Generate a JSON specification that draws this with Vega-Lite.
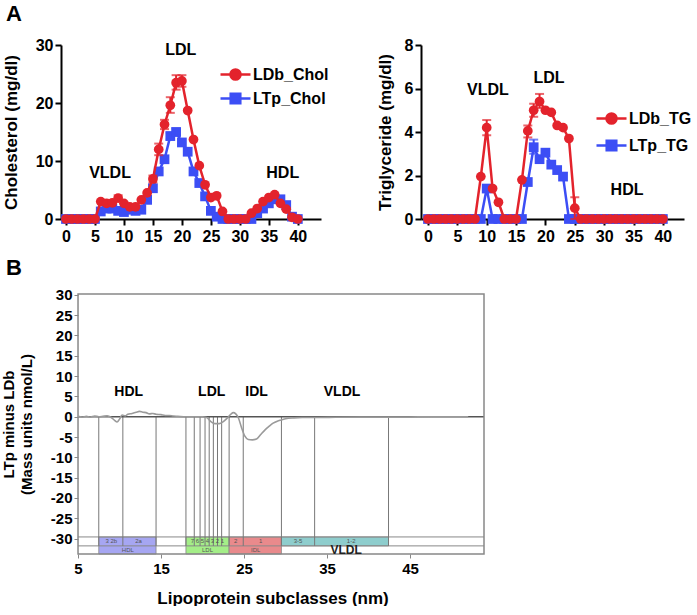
{
  "$schema": "https://vega.github.io/schema/vega-lite/v6.json",
  "background": "white",
  "padding": {"left": 1, "top": 3, "right": 0, "bottom": 0},
  "config": {
    "font": "Liberation Sans",
    "view": {"stroke": null},
    "axis": {"grid": false, "labelFont": "Liberation Sans", "titleFont": "Liberation Sans", "labelFontWeight": "bold", "titleFontWeight": "bold", "labelColor": "black", "titleColor": "black"},
    "legend": {"labelFont": "Liberation Sans"}
  },
  "datasets": {
    "chol": [
      {"f":0,"v":0,"s":"LDb_Chol"},{"f":1,"v":0,"s":"LDb_Chol"},{"f":2,"v":0,"s":"LDb_Chol"},{"f":3,"v":0,"s":"LDb_Chol"},{"f":4,"v":0,"s":"LDb_Chol"},{"f":5,"v":0,"s":"LDb_Chol"},{"f":6,"v":3.0,"s":"LDb_Chol"},{"f":7,"v":2.7,"s":"LDb_Chol"},{"f":8,"v":2.8,"s":"LDb_Chol"},{"f":9,"v":3.6,"s":"LDb_Chol"},{"f":10,"v":2.7,"s":"LDb_Chol"},{"f":11,"v":2.1,"s":"LDb_Chol"},{"f":12,"v":2.1,"s":"LDb_Chol"},{"f":13,"v":3.3,"s":"LDb_Chol"},{"f":14,"v":4.5,"s":"LDb_Chol"},{"f":15,"v":6.9,"s":"LDb_Chol"},{"f":16,"v":12.0,"s":"LDb_Chol"},{"f":17,"v":16.3,"s":"LDb_Chol"},{"f":18,"v":19.6,"s":"LDb_Chol"},{"f":19,"v":23.5,"s":"LDb_Chol"},{"f":20,"v":23.8,"s":"LDb_Chol"},{"f":21,"v":18.7,"s":"LDb_Chol"},{"f":22,"v":13.7,"s":"LDb_Chol"},{"f":23,"v":9.2,"s":"LDb_Chol"},{"f":24,"v":5.9,"s":"LDb_Chol"},{"f":25,"v":3.7,"s":"LDb_Chol"},{"f":26,"v":4.0,"s":"LDb_Chol"},{"f":27,"v":1.3,"s":"LDb_Chol"},{"f":28,"v":0,"s":"LDb_Chol"},{"f":29,"v":0,"s":"LDb_Chol"},{"f":30,"v":0,"s":"LDb_Chol"},{"f":31,"v":0,"s":"LDb_Chol"},{"f":32,"v":1.0,"s":"LDb_Chol"},{"f":33,"v":1.8,"s":"LDb_Chol"},{"f":34,"v":3.0,"s":"LDb_Chol"},{"f":35,"v":3.7,"s":"LDb_Chol"},{"f":36,"v":4.2,"s":"LDb_Chol"},{"f":37,"v":2.7,"s":"LDb_Chol"},{"f":38,"v":1.7,"s":"LDb_Chol"},{"f":39,"v":0.3,"s":"LDb_Chol"},{"f":40,"v":0,"s":"LDb_Chol"},
      {"f":0,"v":0,"s":"LTp_Chol"},{"f":1,"v":0,"s":"LTp_Chol"},{"f":2,"v":0,"s":"LTp_Chol"},{"f":3,"v":0,"s":"LTp_Chol"},{"f":4,"v":0,"s":"LTp_Chol"},{"f":5,"v":0,"s":"LTp_Chol"},{"f":6,"v":1.3,"s":"LTp_Chol"},{"f":7,"v":1.8,"s":"LTp_Chol"},{"f":8,"v":1.8,"s":"LTp_Chol"},{"f":9,"v":1.4,"s":"LTp_Chol"},{"f":10,"v":1.2,"s":"LTp_Chol"},{"f":11,"v":1.6,"s":"LTp_Chol"},{"f":12,"v":1.4,"s":"LTp_Chol"},{"f":13,"v":1.6,"s":"LTp_Chol"},{"f":14,"v":3.3,"s":"LTp_Chol"},{"f":15,"v":5.3,"s":"LTp_Chol"},{"f":16,"v":8.2,"s":"LTp_Chol"},{"f":17,"v":10.3,"s":"LTp_Chol"},{"f":18,"v":14.3,"s":"LTp_Chol"},{"f":19,"v":15.0,"s":"LTp_Chol"},{"f":20,"v":13.2,"s":"LTp_Chol"},{"f":21,"v":11.6,"s":"LTp_Chol"},{"f":22,"v":8.2,"s":"LTp_Chol"},{"f":23,"v":6.2,"s":"LTp_Chol"},{"f":24,"v":3.9,"s":"LTp_Chol"},{"f":25,"v":1.4,"s":"LTp_Chol"},{"f":26,"v":0.4,"s":"LTp_Chol"},{"f":27,"v":0,"s":"LTp_Chol"},{"f":28,"v":0,"s":"LTp_Chol"},{"f":29,"v":0,"s":"LTp_Chol"},{"f":30,"v":0,"s":"LTp_Chol"},{"f":31,"v":0,"s":"LTp_Chol"},{"f":32,"v":0,"s":"LTp_Chol"},{"f":33,"v":1.0,"s":"LTp_Chol"},{"f":34,"v":1.8,"s":"LTp_Chol"},{"f":35,"v":2.7,"s":"LTp_Chol"},{"f":36,"v":3.4,"s":"LTp_Chol"},{"f":37,"v":3.4,"s":"LTp_Chol"},{"f":38,"v":2.4,"s":"LTp_Chol"},{"f":39,"v":0.4,"s":"LTp_Chol"},{"f":40,"v":0,"s":"LTp_Chol"}
    ],
    "cholErr": [
      {"f":9,"v":3.1,"v2":4.1,"s":"LDb_Chol"},{"f":15,"v":6.3,"v2":7.5,"s":"LDb_Chol"},{"f":16,"v":11.0,"v2":13.0,"s":"LDb_Chol"},{"f":17,"v":15.5,"v2":17.1,"s":"LDb_Chol"},{"f":18,"v":18.3,"v2":21.0,"s":"LDb_Chol"},{"f":19,"v":22.3,"v2":24.8,"s":"LDb_Chol"},{"f":20,"v":22.8,"v2":24.8,"s":"LDb_Chol"},
      {"f":18,"v":13.7,"v2":14.9,"s":"LTp_Chol"},{"f":19,"v":14.4,"v2":15.6,"s":"LTp_Chol"}
    ],
    "cholLab": [
      {"f":19.8,"v":29.1,"t":"LDL"},{"f":7.6,"v":7.9,"t":"VLDL"},{"f":37.4,"v":7.9,"t":"HDL"}
    ],
    "tg": [
      {"f":0,"v":0,"s":"LDb_TG"},{"f":1,"v":0,"s":"LDb_TG"},{"f":2,"v":0,"s":"LDb_TG"},{"f":3,"v":0,"s":"LDb_TG"},{"f":4,"v":0,"s":"LDb_TG"},{"f":5,"v":0,"s":"LDb_TG"},{"f":6,"v":0,"s":"LDb_TG"},{"f":7,"v":0,"s":"LDb_TG"},{"f":8,"v":0,"s":"LDb_TG"},{"f":9,"v":1.95,"s":"LDb_TG"},{"f":10,"v":4.2,"s":"LDb_TG"},{"f":11,"v":1.4,"s":"LDb_TG"},{"f":12,"v":0.77,"s":"LDb_TG"},{"f":13,"v":0,"s":"LDb_TG"},{"f":14,"v":0,"s":"LDb_TG"},{"f":15,"v":0,"s":"LDb_TG"},{"f":16,"v":1.8,"s":"LDb_TG"},{"f":17,"v":4.05,"s":"LDb_TG"},{"f":18,"v":5.0,"s":"LDb_TG"},{"f":19,"v":5.4,"s":"LDb_TG"},{"f":20,"v":5.0,"s":"LDb_TG"},{"f":21,"v":4.9,"s":"LDb_TG"},{"f":22,"v":4.3,"s":"LDb_TG"},{"f":23,"v":4.2,"s":"LDb_TG"},{"f":24,"v":3.7,"s":"LDb_TG"},{"f":25,"v":0.5,"s":"LDb_TG"},{"f":26,"v":0,"s":"LDb_TG"},{"f":27,"v":0,"s":"LDb_TG"},{"f":28,"v":0,"s":"LDb_TG"},{"f":29,"v":0,"s":"LDb_TG"},{"f":30,"v":0,"s":"LDb_TG"},{"f":31,"v":0,"s":"LDb_TG"},{"f":32,"v":0,"s":"LDb_TG"},{"f":33,"v":0,"s":"LDb_TG"},{"f":34,"v":0,"s":"LDb_TG"},{"f":35,"v":0,"s":"LDb_TG"},{"f":36,"v":0,"s":"LDb_TG"},{"f":37,"v":0,"s":"LDb_TG"},{"f":38,"v":0,"s":"LDb_TG"},{"f":39,"v":0,"s":"LDb_TG"},{"f":40,"v":0,"s":"LDb_TG"},
      {"f":0,"v":0,"s":"LTp_TG"},{"f":1,"v":0,"s":"LTp_TG"},{"f":2,"v":0,"s":"LTp_TG"},{"f":3,"v":0,"s":"LTp_TG"},{"f":4,"v":0,"s":"LTp_TG"},{"f":5,"v":0,"s":"LTp_TG"},{"f":6,"v":0,"s":"LTp_TG"},{"f":7,"v":0,"s":"LTp_TG"},{"f":8,"v":0,"s":"LTp_TG"},{"f":9,"v":0,"s":"LTp_TG"},{"f":10,"v":1.4,"s":"LTp_TG"},{"f":11,"v":0,"s":"LTp_TG"},{"f":12,"v":0,"s":"LTp_TG"},{"f":13,"v":0,"s":"LTp_TG"},{"f":14,"v":0,"s":"LTp_TG"},{"f":15,"v":0,"s":"LTp_TG"},{"f":16,"v":0,"s":"LTp_TG"},{"f":17,"v":1.7,"s":"LTp_TG"},{"f":18,"v":3.3,"s":"LTp_TG"},{"f":19,"v":2.75,"s":"LTp_TG"},{"f":20,"v":3.05,"s":"LTp_TG"},{"f":21,"v":2.5,"s":"LTp_TG"},{"f":22,"v":2.25,"s":"LTp_TG"},{"f":23,"v":1.95,"s":"LTp_TG"},{"f":24,"v":0,"s":"LTp_TG"},{"f":25,"v":0,"s":"LTp_TG"},{"f":26,"v":0,"s":"LTp_TG"},{"f":27,"v":0,"s":"LTp_TG"},{"f":28,"v":0,"s":"LTp_TG"},{"f":29,"v":0,"s":"LTp_TG"},{"f":30,"v":0,"s":"LTp_TG"},{"f":31,"v":0,"s":"LTp_TG"},{"f":32,"v":0,"s":"LTp_TG"},{"f":33,"v":0,"s":"LTp_TG"},{"f":34,"v":0,"s":"LTp_TG"},{"f":35,"v":0,"s":"LTp_TG"},{"f":36,"v":0,"s":"LTp_TG"},{"f":37,"v":0,"s":"LTp_TG"},{"f":38,"v":0,"s":"LTp_TG"},{"f":39,"v":0,"s":"LTp_TG"},{"f":40,"v":0,"s":"LTp_TG"}
    ],
    "tgErr": [
      {"f":10,"v":3.85,"v2":4.55,"s":"LDb_TG"},{"f":17,"v":3.75,"v2":4.3,"s":"LDb_TG"},{"f":18,"v":4.7,"v2":5.3,"s":"LDb_TG"},{"f":19,"v":5.1,"v2":5.75,"s":"LDb_TG"},{"f":25,"v":0,"v2":1.0,"s":"LDb_TG"},
      {"f":18,"v":3.0,"v2":3.65,"s":"LTp_TG"}
    ],
    "tgLab": [
      {"f":10.2,"v":5.93,"t":"VLDL"},{"f":20.6,"v":6.5,"t":"LDL"},{"f":33.9,"v":1.33,"t":"HDL"}
    ],
    "diff": [
      {"x":5.0,"y":0.1},{"x":5.5,"y":-0.1},{"x":6.0,"y":0.1},{"x":6.5,"y":-0.1},{"x":7.0,"y":0.15},{"x":7.5,"y":0.0},{"x":8.0,"y":0.1},{"x":8.5,"y":0.2},{"x":9.0,"y":-0.2},{"x":9.4,"y":-0.9},{"x":9.7,"y":-1.3},{"x":10.0,"y":-0.6},{"x":10.3,"y":0.4},{"x":10.7,"y":0.2},{"x":11.0,"y":0.6},{"x":11.5,"y":0.8},{"x":12.0,"y":1.1},{"x":12.4,"y":1.3},{"x":12.8,"y":1.1},{"x":13.2,"y":1.0},{"x":13.6,"y":0.7},{"x":14.0,"y":0.8},{"x":14.4,"y":0.6},{"x":15.0,"y":0.5},{"x":15.5,"y":0.3},{"x":16.0,"y":0.3},{"x":16.5,"y":0.15},{"x":17.0,"y":0.1},{"x":18.0,"y":0.0},{"x":19.0,"y":0.0},{"x":20.0,"y":0.0},{"x":20.5,"y":-0.2},{"x":21.0,"y":-1.2},{"x":21.5,"y":-1.7},{"x":22.0,"y":-1.7},{"x":22.5,"y":-1.2},{"x":23.0,"y":-0.3},{"x":23.4,"y":0.6},{"x":23.7,"y":1.0},{"x":24.0,"y":0.7},{"x":24.3,"y":-0.2},{"x":24.7,"y":-2.7},{"x":25.1,"y":-4.8},{"x":25.5,"y":-5.6},{"x":26.0,"y":-5.7},{"x":26.5,"y":-5.5},{"x":27.0,"y":-4.4},{"x":27.5,"y":-3.3},{"x":28.0,"y":-2.4},{"x":28.5,"y":-1.6},{"x":29.0,"y":-1.1},{"x":29.5,"y":-0.8},{"x":30.0,"y":-0.5},{"x":31.0,"y":-0.3},{"x":32.0,"y":-0.2},{"x":34.0,"y":-0.2},{"x":36.0,"y":-0.15},{"x":40.0,"y":-0.1},{"x":44.0,"y":-0.1},{"x":48.0,"y":0.0},{"x":52.0,"y":0.0}
    ],
    "boxes": [
      {"cls":"HDL","x":7.5,"x2":14.4,"y":-29.6,"y2":-33.8},
      {"cls":"LDL","x":18.0,"x2":23.2,"y":-29.6,"y2":-33.8},
      {"cls":"IDL","x":23.2,"x2":29.5,"y":-29.6,"y2":-33.8},
      {"cls":"VLDL","x":29.5,"x2":42.4,"y":-29.6,"y2":-31.8}
    ],
    "hlines": [
      {"x":5,"x2":53.9,"y":-29.6},{"x":5,"x2":53.9,"y":-31.8}
    ],
    "zero": [{"x":5,"x2":53.9,"y":0}],
    "vlines": [
      {"x":7.5,"y":0,"y2":-31.8},{"x":10.4,"y":0,"y2":-31.8},{"x":14.4,"y":0,"y2":-31.8},{"x":18.0,"y":0,"y2":-31.8},{"x":19.0,"y":0,"y2":-31.8},{"x":19.7,"y":0,"y2":-31.8},{"x":20.3,"y":0,"y2":-31.8},{"x":20.8,"y":0,"y2":-31.8},{"x":21.3,"y":0,"y2":-31.8},{"x":21.8,"y":0,"y2":-31.8},{"x":22.3,"y":0,"y2":-31.8},{"x":23.2,"y":0,"y2":-31.8},{"x":24.9,"y":0,"y2":-31.8},{"x":29.5,"y":0,"y2":-31.8},{"x":33.5,"y":0,"y2":-31.8},{"x":42.4,"y":0,"y2":-31.8}
    ],
    "frame": [{"x":5,"x2":53.9,"y":30.2,"y2":-33.8}],
    "regLab": [
      {"x":11.1,"y":6.2,"t":"HDL"},{"x":21.1,"y":6.2,"t":"LDL"},{"x":26.5,"y":6.2,"t":"IDL"},{"x":36.8,"y":6.2,"t":"VLDL"}
    ],
    "boxLab": [
      {"x":9.0,"y":-30.7,"t":"3  2b"},{"x":12.3,"y":-30.7,"t":"2a"},{"x":11.0,"y":-32.8,"t":"HDL"},
      {"x":20.6,"y":-30.7,"t":"7 6 5 4 3 2 1"},{"x":20.6,"y":-32.8,"t":"LDL"},
      {"x":24.0,"y":-30.7,"t":"2"},{"x":27.0,"y":-30.7,"t":"1"},{"x":26.4,"y":-32.8,"t":"IDL"},
      {"x":31.5,"y":-30.7,"t":"3-5"},{"x":37.9,"y":-30.7,"t":"1-2"}
    ],
    "vldlLab": [{"x":37.3,"y":-32.8,"t":"VLDL"}]
  },
  "bounds": "flush",
  "spacing": 249,
  "resolve": {"scale": {"color": "independent"}, "legend": {"color": "independent"}},
  "vconcat": [
    {
      "bounds": "flush",
      "spacing": 100,
      "resolve": {"scale": {"color": "independent"}, "legend": {"color": "independent"}},
      "hconcat": [
        {
          "width": 260,
          "height": 174,
          "title": {"text": "A", "anchor": "start", "frame": "group", "dx": -55, "fontSize": 22, "fontWeight": "bold", "baseline": "alphabetic", "offset": -6, "color": "black", "font": "Liberation Sans"},
          "encoding": {
            "x": {"field": "f", "type": "quantitative", "scale": {"domain": [-0.86, 44], "nice": false, "zero": false},
              "axis": {"title": null, "values": [0,5,10,15,20,25,30,35,40], "domainColor": "black", "domainWidth": 2, "tickColor": "black", "tickWidth": 2, "tickSize": 6, "labelFontSize": 16, "labelPadding": 3, "labelFlush": false}},
            "y": {"field": "v", "type": "quantitative", "scale": {"domain": [0, 30], "nice": false},
              "axis": {"title": "Cholesterol (mg/dl)", "values": [0,10,20,30], "domainColor": "black", "domainWidth": 2, "tickColor": "black", "tickWidth": 2, "tickSize": 6, "labelFontSize": 16, "labelPadding": 2, "titleFontSize": 17, "titlePadding": 15, "labelFlush": false}},
            "color": {"field": "s", "type": "nominal", "scale": {"domain": ["LDb_Chol","LTp_Chol"], "range": ["#e3232c","#3c4ef5"]},
              "legend": {"orient": "none", "legendX": 161, "legendY": 16, "title": null, "symbolSize": 576, "labelFontSize": 16, "labelFontWeight": "bold", "labelColor": "black", "labelOffset": 4, "rowPadding": 0, "padding": 0,
                "encode": {"symbols": {"update": {"shape": {"signal": "datum.value === 'LDb_Chol' ? 'M-1.25,0H1.25M-0.42,0A0.42,0.42,0,1,0,0.42,0A0.42,0.42,0,1,0,-0.42,0Z' : 'M-1.25,0H1.25M-0.4,-0.4H0.4V0.4H-0.4Z'"}, "stroke": {"signal": "datum.value === 'LDb_Chol' ? '#e3232c' : '#3c4ef5'"}, "strokeWidth": {"value": 2.5}, "opacity": {"value": 1}}}}}}
          },
          "layer": [
            {"data": {"name": "chol"}, "transform": [{"filter": "datum.s === 'LTp_Chol'"}], "mark": {"type": "line", "strokeWidth": 2.5}},
            {"data": {"name": "chol"}, "transform": [{"filter": "datum.s === 'LTp_Chol'"}], "mark": {"type": "point", "filled": true, "shape": "square", "size": 95, "opacity": 1}},
            {"data": {"name": "cholErr"}, "transform": [{"filter": "datum.s === 'LTp_Chol'"}], "mark": {"type": "errorbar", "ticks": true, "thickness": 2, "size": 9},
              "encoding": {"y2": {"field": "v2"}}},
            {"data": {"name": "chol"}, "transform": [{"filter": "datum.s === 'LDb_Chol'"}], "mark": {"type": "line", "strokeWidth": 2.5}},
            {"data": {"name": "chol"}, "transform": [{"filter": "datum.s === 'LDb_Chol'"}], "mark": {"type": "point", "filled": true, "shape": "circle", "size": 95, "opacity": 1}},
            {"data": {"name": "cholErr"}, "transform": [{"filter": "datum.s === 'LDb_Chol'"}], "mark": {"type": "errorbar", "ticks": true, "thickness": 2, "size": 9},
              "encoding": {"y2": {"field": "v2"}}},
            {"data": {"name": "cholLab"}, "mark": {"type": "text", "fontSize": 16, "fontWeight": "bold", "color": "black", "align": "center", "baseline": "middle"},
              "encoding": {"text": {"field": "t"}, "color": {"value": "black"}}}
          ]
        },
        {
          "width": 263,
          "height": 174,
          "encoding": {
            "x": {"field": "f", "type": "quantitative", "scale": {"domain": [-1.19, 43.6], "nice": false, "zero": false},
              "axis": {"title": null, "values": [0,5,10,15,20,25,30,35,40], "domainColor": "black", "domainWidth": 2, "tickColor": "black", "tickWidth": 2, "tickSize": 6, "labelFontSize": 16, "labelPadding": 3, "labelFlush": false}},
            "y": {"field": "v", "type": "quantitative", "scale": {"domain": [0, 8], "nice": false},
              "axis": {"title": "Triglyceride (mg/dl)", "values": [0,2,4,6,8], "domainColor": "black", "domainWidth": 2, "tickColor": "black", "tickWidth": 2, "tickSize": 6, "labelFontSize": 16, "labelPadding": 2, "titleFontSize": 17, "titlePadding": 10, "labelFlush": false}},
            "color": {"field": "s", "type": "nominal", "scale": {"domain": ["LDb_TG","LTp_TG"], "range": ["#e3232c","#3c4ef5"]},
              "legend": {"orient": "none", "legendX": 177, "legendY": 60, "title": null, "symbolSize": 576, "labelFontSize": 16, "labelFontWeight": "bold", "labelColor": "black", "labelOffset": 4, "rowPadding": 3, "padding": 0,
                "encode": {"symbols": {"update": {"shape": {"signal": "datum.value === 'LDb_TG' ? 'M-1.25,0H1.25M-0.42,0A0.42,0.42,0,1,0,0.42,0A0.42,0.42,0,1,0,-0.42,0Z' : 'M-1.25,0H1.25M-0.4,-0.4H0.4V0.4H-0.4Z'"}, "stroke": {"signal": "datum.value === 'LDb_TG' ? '#e3232c' : '#3c4ef5'"}, "strokeWidth": {"value": 2.5}, "opacity": {"value": 1}}}}}}
          },
          "layer": [
            {"data": {"name": "tg"}, "transform": [{"filter": "datum.s === 'LTp_TG'"}], "mark": {"type": "line", "strokeWidth": 2.5}},
            {"data": {"name": "tg"}, "transform": [{"filter": "datum.s === 'LTp_TG'"}], "mark": {"type": "point", "filled": true, "shape": "square", "size": 95, "opacity": 1}},
            {"data": {"name": "tgErr"}, "transform": [{"filter": "datum.s === 'LTp_TG'"}], "mark": {"type": "errorbar", "ticks": true, "thickness": 2, "size": 9},
              "encoding": {"y2": {"field": "v2"}}},
            {"data": {"name": "tg"}, "transform": [{"filter": "datum.s === 'LDb_TG'"}], "mark": {"type": "line", "strokeWidth": 2.5}},
            {"data": {"name": "tg"}, "transform": [{"filter": "datum.s === 'LDb_TG'"}], "mark": {"type": "point", "filled": true, "shape": "circle", "size": 95, "opacity": 1}},
            {"data": {"name": "tgErr"}, "transform": [{"filter": "datum.s === 'LDb_TG'"}], "mark": {"type": "errorbar", "ticks": true, "thickness": 2, "size": 9},
              "encoding": {"y2": {"field": "v2"}}},
            {"data": {"name": "tgLab"}, "mark": {"type": "text", "fontSize": 16, "fontWeight": "bold", "color": "black", "align": "center", "baseline": "middle"},
              "encoding": {"text": {"field": "t"}, "color": {"value": "black"}}}
          ]
        }
      ]
    },
    {
      "width": 423,
      "height": 260,
      "title": {"text": "B", "anchor": "start", "frame": "group", "dx": -55, "fontSize": 22, "fontWeight": "bold", "baseline": "alphabetic", "offset": -9, "color": "black", "font": "Liberation Sans"},
      "encoding": {
        "x": {"field": "x", "type": "quantitative", "scale": {"domain": [2.95, 53.9], "nice": false, "zero": false},
          "axis": {"title": "Lipoprotein subclasses (nm)", "values": [5,15,25,35,45], "domain": false, "tickColor": "#888", "tickSize": 4, "tickWidth": 1, "labelFontSize": 15, "labelPadding": 3, "titleFontSize": 17, "titlePadding": 14, "labelFlush": false}},
        "y": {"field": "y", "type": "quantitative", "scale": {"domain": [-33.8, 30.2], "nice": false, "zero": false},
          "axis": {"title": ["LTp minus LDb", "(Mass units nmol/L)"], "values": [-30,-25,-20,-15,-10,-5,0,5,10,15,20,25,30], "offset": -17, "domain": false, "tickColor": "#888", "tickSize": 4, "tickWidth": 1, "labelFontSize": 15, "labelPadding": 2, "titleFontSize": 15, "titleLineHeight": 18, "titlePadding": 16, "labelFlush": false,
            "labelExpr": "datum.value < 0 ? '-' + abs(datum.value) : '' + datum.value"}}
      },
      "layer": [
        {"data": {"name": "boxes"}, "mark": {"type": "rect", "stroke": "#888", "strokeWidth": 0.8, "opacity": 1},
          "encoding": {"x2": {"field": "x2"}, "y2": {"field": "y2"}, "color": {"field": "cls", "type": "nominal", "scale": {"domain": ["HDL","LDL","IDL","VLDL"], "range": ["#a6a6f2","#a4ee88","#e98a8c","#8ecdcd"]}, "legend": null}}},
        {"data": {"name": "hlines"}, "mark": {"type": "rule", "color": "#888", "strokeWidth": 1}, "encoding": {"x2": {"field": "x2"}}},
        {"data": {"name": "vlines"}, "mark": {"type": "rule", "color": "#777", "strokeWidth": 1}, "encoding": {"y2": {"field": "y2"}}},
        {"data": {"name": "zero"}, "mark": {"type": "rule", "color": "#555", "strokeWidth": 1.5}, "encoding": {"x2": {"field": "x2"}}},
        {"data": {"name": "frame"}, "mark": {"type": "rect", "filled": false, "fill": null, "stroke": "#888", "strokeWidth": 1.5}, "encoding": {"x2": {"field": "x2"}, "y2": {"field": "y2"}}},
        {"data": {"name": "diff"}, "mark": {"type": "line", "color": "#9a9a9a", "strokeWidth": 1.6, "interpolate": "monotone"}, "encoding": {}},
        {"data": {"name": "regLab"}, "mark": {"type": "text", "fontSize": 14, "fontWeight": "bold", "color": "black", "align": "center", "baseline": "middle"}, "encoding": {"text": {"field": "t"}}},
        {"data": {"name": "boxLab"}, "mark": {"type": "text", "fontSize": 6, "color": "#555", "align": "center", "baseline": "middle"}, "encoding": {"text": {"field": "t"}}},
        {"data": {"name": "vldlLab"}, "mark": {"type": "text", "fontSize": 12, "fontWeight": "bold", "color": "#222", "align": "center", "baseline": "middle"}, "encoding": {"text": {"field": "t"}}}
      ]
    }
  ]
}
